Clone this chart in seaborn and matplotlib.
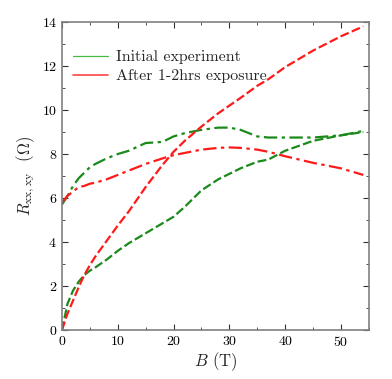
"""
Magnetoresistance curves before and after exposure.
"""
import matplotlib
matplotlib.use("Agg")
import matplotlib.pyplot as plt
from matplotlib.lines import Line2D
from matplotlib.ticker import MultipleLocator
import seaborn as sns

# field values (T)
b_field = [0, 1, 2, 3, 4, 5, 6, 8, 10, 12, 15, 18, 20, 22, 25, 28, 30, 32, 35, 37, 40, 45, 50, 54]

# initial experiment
green_dash = [0, 1.2, 1.8, 2.2, 2.5, 2.7, 2.85, 3.2, 3.6, 3.95, 4.4, 4.85, 5.15, 5.6, 6.35, 6.85, 7.1, 7.35, 7.65, 7.75, 8.15, 8.6, 8.85, 9.0]
green_dashdot = [5.7, 6.1, 6.55, 6.9, 7.15, 7.4, 7.55, 7.8, 8.0, 8.15, 8.5, 8.55, 8.8, 8.95, 9.1, 9.2, 9.2, 9.1, 8.8, 8.75, 8.75, 8.75, 8.85, 9.05]

# after exposure
red_dash = [0, 0.75, 1.35, 1.95, 2.5, 2.95, 3.35, 4.05, 4.75, 5.4, 6.5, 7.5, 8.1, 8.6, 9.25, 9.85, 10.2, 10.55, 11.1, 11.4, 11.95, 12.7, 13.35, 13.8]
red_dashdot = [5.8, 6.1, 6.3, 6.5, 6.55, 6.65, 6.7, 6.85, 7.05, 7.25, 7.55, 7.8, 7.95, 8.05, 8.2, 8.28, 8.3, 8.28, 8.2, 8.1, 7.9, 7.6, 7.35, 7.05]

legend_labels = ["Initial experiment", "After 1-2hrs exposure"]

sns.set_style("ticks")
plt.rcParams["font.family"] = ["cmr10", "DejaVu Serif"]
plt.rcParams["mathtext.fontset"] = "cm"
plt.rcParams["axes.formatter.use_mathtext"] = True

fig = plt.figure(figsize=(3.92, 3.79), dpi=100)
ax = fig.add_axes([0.158, 0.129, 0.783, 0.813])

green = "#1a8a1a"
red = "#ff1a1a"
dash = (0, (4, 1.5))
dashdot = (0, (6, 2, 1.5, 2))
sns.lineplot(x=b_field, y=green_dash, ax=ax, color=green, lw=1.6, linestyle=dash)
sns.lineplot(x=b_field, y=green_dashdot, ax=ax, color=green, lw=1.6, linestyle=dashdot)
sns.lineplot(x=b_field, y=red_dash, ax=ax, color=red, lw=1.6, linestyle=dash)
sns.lineplot(x=b_field, y=red_dashdot, ax=ax, color=red, lw=1.6, linestyle=dashdot)

ax.set_xlim(0, 55)
ax.set_ylim(0, 14)
ax.xaxis.set_major_locator(MultipleLocator(10))
ax.xaxis.set_minor_locator(MultipleLocator(5))
ax.yaxis.set_major_locator(MultipleLocator(2))
ax.yaxis.set_minor_locator(MultipleLocator(1))
ax.tick_params(which="both", direction="in", top=True, right=True, labelsize=10, colors="#333333", labelcolor="black")
ax.tick_params(which="major", length=4, width=0.8)
ax.tick_params(which="minor", length=2, width=0.6)
for sp in ax.spines.values():
    sp.set_color("#808080")
    sp.set_linewidth(1.2)

ax.set_xlabel(r"$B$ (T)", fontsize=12, labelpad=1)
ax.set_ylabel(r"$R_{\rm xx,xy}$  $(\Omega)$", fontsize=12, labelpad=3)

handles = [Line2D([], [], color="#44bb44", lw=0.9), Line2D([], [], color="#ff4444", lw=1.2)]
ax.legend(handles, legend_labels, loc="upper left", bbox_to_anchor=(0.0, 0.945), frameon=False,
          fontsize=11.5, handlelength=2.2, handletextpad=0.5, labelspacing=0.3, borderaxespad=0.3)

fig.savefig("out.png", dpi=100)
